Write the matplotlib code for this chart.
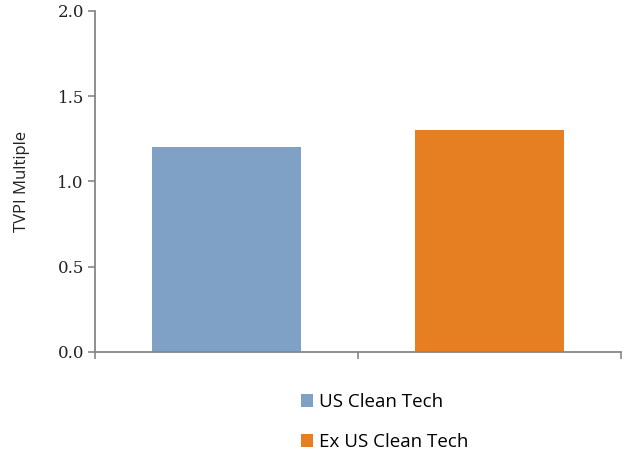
import matplotlib.pyplot as plt
from matplotlib.patches import Patch

categories = ["US Clean Tech", "Ex US Clean Tech"]
tvpi = [1.2, 1.3]
colors = ["#7fa1c5", "#e67e22"]
y_ticks = [0.0, 0.5, 1.0, 1.5, 2.0]

axis_gray = "#868686"

fig = plt.figure(figsize=(6.23, 4.5), dpi=100)
ax = fig.add_axes([0.1525, 0.2178, 0.8443, 0.7578])

x = list(range(len(categories)))
bars = ax.bar(x, tvpi, width=0.57, color=colors)

ax.set_xlim(-0.5, len(categories) - 0.5)
ax.set_ylim(0, 2.0)

ax.set_yticks(y_ticks)
ax.set_yticklabels([f"{v:.1f}" for v in y_ticks],
                   fontfamily="DejaVu Serif", fontsize=12, color="#222222")
ax.set_xticks([-0.5, 0.5, 1.5])
ax.set_xticklabels([])

ax.tick_params(axis="both", direction="out", length=5, width=1.2,
               color=axis_gray)
ax.tick_params(axis="y", pad=3)

for s in ["top", "right"]:
    ax.spines[s].set_visible(False)
for s in ["left", "bottom"]:
    ax.spines[s].set_color(axis_gray)
    ax.spines[s].set_linewidth(1.3)

ax.set_ylabel("TVPI Multiple", fontfamily="Open Sans", fontsize=12,
              color="#222222", labelpad=20)

handles = [Patch(facecolor=c, edgecolor="none") for c in colors]
fig.legend(handles, categories, loc="upper left",
           bbox_to_anchor=(0.483, 0.126), frameon=False,
           prop={"family": "Open Sans", "size": 13.5},
           handlelength=0.65, handleheight=0.65, handletextpad=0.3,
           labelspacing=1.15, borderpad=0, borderaxespad=0)

plt.savefig("out.png", dpi=100)
